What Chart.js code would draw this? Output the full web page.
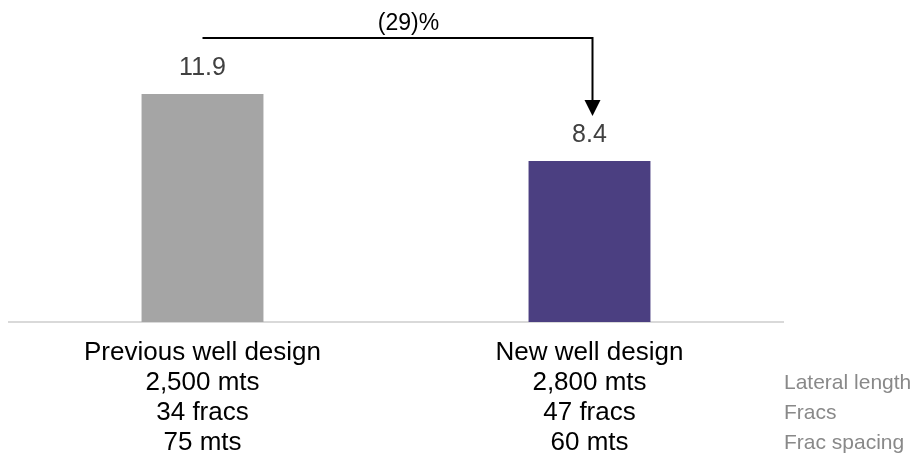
<!DOCTYPE html>
<html>
<head>
<meta charset="utf-8">
<script src="https://cdn.jsdelivr.net/npm/chart.js@4"></script>
<style>
  html, body { margin: 0; padding: 0; background: #fff; }
  canvas { display: block; }
</style>
</head>
<body>
<canvas id="chart" width="915" height="459"></canvas>
<script>
"use strict";

// data
const designs = ["Previous well design", "New well design"];
const lateralLength = ["2,500 mts", "2,800 mts"];
const fracs = ["34 fracs", "47 fracs"];
const fracSpacing = ["75 mts", "60 mts"];
const values = [11.9, 8.4];
const rowLabels = ["Lateral length", "Fracs", "Frac spacing"];
const barColors = ["#a5a5a5", "#4b3f81"];

const FONT = "'Liberation Sans', Arial, sans-serif";
const TICK_PAD = 16;
const LINE_H = 30;

//labels, arrow and row names drawn on top
const annotations = {
  id: "annotations",
  afterDatasetsDraw(chart) {
    const ctx = chart.ctx;
    const bars = chart.getDatasetMeta(0).data;
    const xScale = chart.scales.x;
    ctx.save();

    ctx.font = "25px " + FONT;
    ctx.fillStyle = "#404040";
    ctx.textAlign = "center";
    ctx.textBaseline = "alphabetic";
    bars.forEach((bar, i) => ctx.fillText(values[i].toFixed(1), bar.x, bar.y - 19));

    // change arrow
    const x1 = bars[0].x;
    const x2 = bars[1].x + 3;
    const yTop = bars[0].y - 56;
    const yTip = bars[1].y - 45;
    ctx.strokeStyle = "#000";
    ctx.fillStyle = "#000";
    ctx.lineWidth = 2;
    ctx.beginPath();
    ctx.moveTo(x1, yTop);
    ctx.lineTo(x2, yTop);
    ctx.lineTo(x2, yTip - 14);
    ctx.stroke();
    ctx.beginPath();
    ctx.moveTo(x2 - 8, yTip - 16);
    ctx.lineTo(x2 + 8, yTip - 16);
    ctx.lineTo(x2, yTip);
    ctx.closePath();
    ctx.fill();

    const pct = Math.round((values[1] / values[0] - 1) * 100);
    const pctText = pct < 0 ? "(" + Math.abs(pct) + ")%" : pct + "%";
    ctx.font = "23px " + FONT;
    ctx.fillText(pctText, (x1 + x2) / 2 + 11, yTop - 8);

    // row names on the right
    ctx.font = "21px " + FONT;
    ctx.fillStyle = "#898989";
    ctx.textAlign = "left";
    ctx.textBaseline = "middle";
    rowLabels.forEach((t, i) => {
      ctx.fillText(t, chart.chartArea.right + 1, xScale.top + TICK_PAD + LINE_H * (i + 1) + LINE_H / 2);
    });
    ctx.restore();
  },
};

new Chart(document.getElementById("chart"), {
  type: "bar",
  data: {
    labels: designs.map((d, i) => [d, lateralLength[i], fracs[i], fracSpacing[i]]),
    datasets: [
      {
        data: values,
        backgroundColor: barColors,
        categoryPercentage: 1,
        barPercentage: 0.315,
      },
    ],
  },
  options: {
    responsive: false,
    animation: false,
    layout: {
      padding: { left: 9, right: 132, top: 34.6, bottom: 1 },
    },
    plugins: {
      legend: { display: false },
      tooltip: { enabled: false },
    },
    scales: {
      x: {
        grid: { display: false, drawTicks: false },
        border: { display: true, color: "#d9d9d9", width: 2 },
        ticks: {
          color: "#000",
          padding: TICK_PAD,
          maxRotation: 0,
          autoSkip: false,
          font: { family: FONT, size: 26, lineHeight: LINE_H / 26 },
        },
        afterFit(scale) {
          scale.height = TICK_PAD + LINE_H * 4;
        },
      },
      y: {
        display: false,
        min: 0,
        max: 15,
      },
    },
  },
  plugins: [annotations],
});
</script>
</body>
</html>
